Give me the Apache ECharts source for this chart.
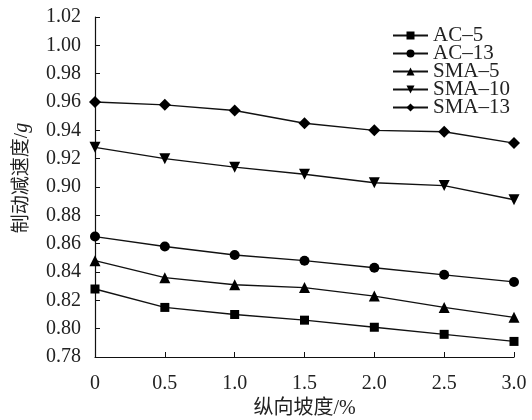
<!DOCTYPE html>
<html>
<head>
<meta charset="utf-8">
<script src="https://cdn.jsdelivr.net/npm/echarts@6/dist/echarts.min.js"></script>
<style>html,body{margin:0;padding:0;background:#fff}#c{width:532px;height:420px}</style>
</head>
<body>
<div id="c"></div>
<script>
const slopes = [0, 0.5, 1.0, 1.5, 2.0, 2.5, 3.0];
const seriesNames = ["AC\u20135", "AC\u201313", "SMA\u20135", "SMA\u201310", "SMA\u201313"];
const ac5    = [0.828, 0.815, 0.810, 0.806, 0.801, 0.796, 0.791];
const ac13   = [0.865, 0.858, 0.852, 0.848, 0.843, 0.838, 0.833];
const sma5   = [0.848, 0.836, 0.831, 0.829, 0.823, 0.815, 0.808];
const sma10  = [0.928, 0.920, 0.914, 0.909, 0.903, 0.901, 0.891];
const sma13  = [0.960, 0.958, 0.954, 0.945, 0.940, 0.939, 0.931];
const yTicks = { min: 0.78, max: 1.02, step: 0.02 };
const xTicks = { min: 0, max: 3, step: 0.5 };

const FONT = "'Liberation Serif', 'Noto Sans CJK SC', serif";
const symbols = ['rect', 'circle', 'triangle', 'path://M0,0 L10,0 L5,10 Z', 'diamond'];
const sizes = [9, 10, 11, 11, 12];
const allData = [ac5, ac13, sma5, sma10, sma13];

const chart = echarts.init(document.getElementById('c'));
chart.setOption({
  animation: false,
  backgroundColor: '#fff',
  textStyle: { fontFamily: FONT, color: '#222' },
  grid: { left: 95, right: 18, top: 17, bottom: 63, containLabel: false, outerBoundsMode: 'none' },
  legend: {
    left: 387, top: 20, orient: 'vertical',
    itemWidth: 35, itemHeight: 10, itemGap: -3,
    textStyle: { fontFamily: FONT, fontSize: 21, color: '#222', lineHeight: 18 },
    data: seriesNames
  },
  xAxis: {
    type: 'value', min: xTicks.min, max: xTicks.max, interval: xTicks.step,
    name: '纵向坡度/%', nameLocation: 'middle', nameGap: 41,
    nameTextStyle: { fontFamily: FONT, fontSize: 20, color: '#222' },
    axisLine: { lineStyle: { color: '#111', width: 1.2 } },
    axisTick: { inside: true, length: 5, lineStyle: { color: '#111' } },
    axisLabel: { fontFamily: FONT, fontSize: 20, color: '#222', margin: 17,
      formatter: v => v === 0 ? '0' : v.toFixed(1) },
    splitLine: { show: false }
  },
  yAxis: {
    type: 'value', min: yTicks.min, max: yTicks.max, interval: yTicks.step,
    name: '制动减速度/{i|g}', nameLocation: 'middle', nameGap: 63, nameRotate: 90,
    nameTextStyle: { fontFamily: FONT, fontSize: 19, color: '#222', padding: [0, 0, 0, 18],
      rich: { i: { fontFamily: FONT, fontStyle: 'italic', fontSize: 20, color: '#222' } } },
    axisLine: { show: true, lineStyle: { color: '#111', width: 1.2 } },
    axisTick: { show: true, inside: true, length: 5, lineStyle: { color: '#111' } },
    axisLabel: { fontFamily: FONT, fontSize: 20, color: '#222', margin: 14,
      formatter: v => v.toFixed(2) },
    splitLine: { show: false }
  },
  series: seriesNames.map((n, i) => ({
    name: n, type: 'line',
    data: slopes.map((x, j) => [x, allData[i][j]]),
    symbol: symbols[i], symbolSize: sizes[i],
    showAllSymbol: true,
    lineStyle: { color: '#111', width: 1.4 },
    itemStyle: { color: '#000', borderWidth: 0 },
    clip: false
  }))
});
</script>
</body>
</html>
